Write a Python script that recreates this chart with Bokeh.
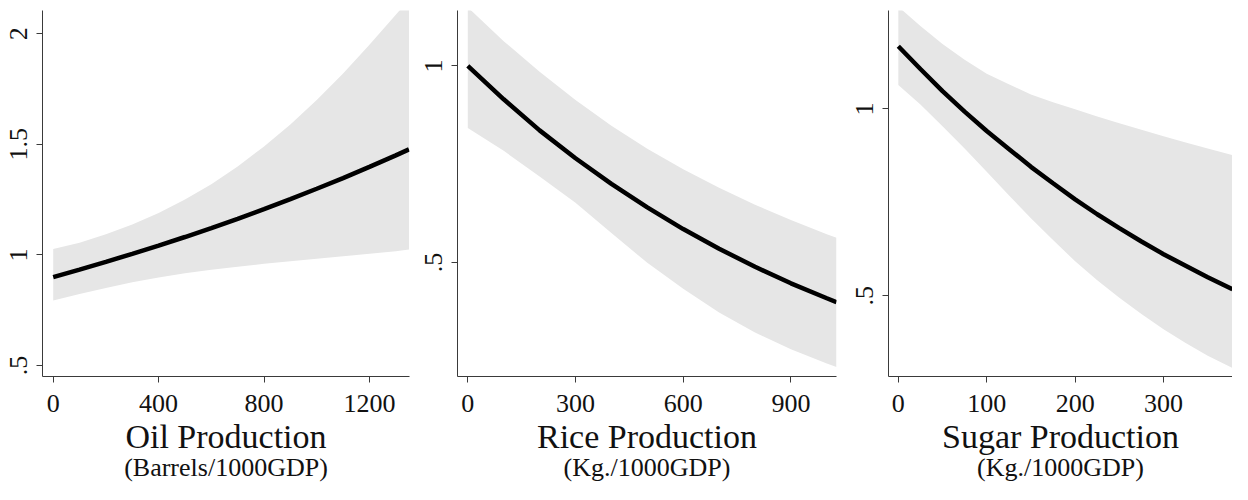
from bokeh.plotting import figure
from bokeh.layouts import row
from bokeh.models import FixedTicker, LinearAxis, Range1d
from bokeh.embed import file_html
from bokeh.resources import INLINE

# ---------------- data ----------------
oil_x = [0, 100, 200, 300, 400, 500, 600, 700, 800, 900, 1000, 1100, 1200, 1300, 1350]
oil_mid = [0.90, 0.934, 0.969, 1.005, 1.042, 1.081, 1.121, 1.163, 1.207, 1.252, 1.299, 1.347, 1.398, 1.45, 1.477]
oil_hi = [1.027, 1.055, 1.093, 1.138, 1.19, 1.25, 1.32, 1.40, 1.49, 1.59, 1.70, 1.82, 1.95, 2.085, 2.155]
oil_lo = [0.794, 0.824, 0.851, 0.876, 0.898, 0.917, 0.933, 0.947, 0.96, 0.972, 0.983, 0.994, 1.005, 1.017, 1.024]

rice_x = [0, 100, 200, 300, 400, 500, 600, 700, 800, 900, 1000, 1027]
rice_mid = [1.0, 0.915, 0.836, 0.765, 0.70, 0.64, 0.585, 0.535, 0.489, 0.447, 0.409, 0.399]
rice_hi = [1.149, 1.063, 0.985, 0.913, 0.848, 0.789, 0.737, 0.69, 0.647, 0.608, 0.572, 0.563]
rice_lo = [0.842, 0.784, 0.719, 0.652, 0.575, 0.499, 0.433, 0.373, 0.322, 0.279, 0.243, 0.234]

sugar_x = [0, 25, 50, 75, 100, 125, 150, 175, 200, 225, 250, 275, 300, 325, 350, 378]
sugar_mid = [1.168, 1.107, 1.048, 0.993, 0.941, 0.893, 0.845, 0.801, 0.758, 0.718, 0.681, 0.645, 0.611, 0.58, 0.549, 0.517]
sugar_hi = [1.274, 1.222, 1.174, 1.132, 1.094, 1.066, 1.039, 1.018, 0.999, 0.98, 0.962, 0.944, 0.927, 0.91, 0.894, 0.876]
sugar_lo = [1.064, 1.012, 0.954, 0.894, 0.832, 0.769, 0.707, 0.649, 0.592, 0.541, 0.494, 0.451, 0.41, 0.373, 0.339, 0.306]

oil_xticks = [0, 400, 800, 1200]
rice_xticks = [0, 300, 600, 900]
sugar_xticks = [0, 100, 200, 300]
oil_yticks = [0.5, 1, 1.5, 2]
oil_ylabels = [".5", "1", "1.5", "2"]
other_yticks = [0.5, 1]
other_ylabels = [".5", "1"]

titles = ["Oil Production", "Rice Production", "Sugar Production"]
subtitles = ["(Barrels/1000GDP)", "(Kg./1000GDP)", "(Kg./1000GDP)"]

FONT = "Liberation Serif"
AXIS_COLOR = "#3a3a3a"
TEXT_COLOR = "#111111"


def panel(x, mid, lo, hi, xr, yr, xticks, yticks, ylabels, title, subtitle,
          width, height, ml, mr, mt, mb):
    p = figure(width=width, height=height, x_range=Range1d(*xr), y_range=Range1d(*yr),
               output_backend="svg", toolbar_location=None,
               min_border_left=ml, min_border_right=mr, min_border_top=mt, min_border_bottom=mb)
    p.outline_line_color = None
    p.xgrid.visible = False
    p.ygrid.visible = False
    p.background_fill_color = "white"

    p.varea(x=x, y1=lo, y2=hi, fill_color="#e6e6e6", fill_alpha=1.0)
    p.line(x=x, y=mid, line_color="black", line_width=4.5)

    for ax in (p.xaxis[0], p.yaxis[0]):
        ax.axis_line_color = AXIS_COLOR
        ax.axis_line_width = 1
        ax.major_tick_line_color = AXIS_COLOR
        ax.major_tick_out = 6
        ax.major_tick_in = 0
        ax.minor_tick_line_color = None
        ax.major_label_text_font = FONT
        ax.major_label_text_font_size = "26px"
        ax.major_label_text_color = TEXT_COLOR

    p.xaxis.ticker = FixedTicker(ticks=xticks)
    p.xaxis.major_label_standoff = 12
    p.xaxis.axis_label = title
    p.xaxis.axis_label_text_font = FONT
    p.xaxis.axis_label_text_font_size = "34px"
    p.xaxis.axis_label_text_font_style = "normal"
    p.xaxis.axis_label_text_color = TEXT_COLOR
    p.xaxis.axis_label_standoff = 3

    p.yaxis.ticker = FixedTicker(ticks=yticks)
    p.yaxis.major_label_overrides = {float(t): l for t, l in zip(yticks, ylabels)}
    p.yaxis.major_label_orientation = "parallel"
    p.yaxis.major_label_standoff = 9

    sub = LinearAxis(ticker=FixedTicker(ticks=[]), axis_label=subtitle,
                     axis_line_color=None, major_tick_line_color=None,
                     minor_tick_line_color=None, major_tick_out=0, major_tick_in=0,
                     axis_label_standoff=-5,
                     axis_label_text_font=FONT, axis_label_text_font_size="26px",
                     axis_label_text_font_style="normal", axis_label_text_color=TEXT_COLOR)
    p.add_layout(sub, "below")
    return p


# all frames span y = 10 .. 378 (the row aligns them)
p1 = panel(oil_x, oil_mid, oil_lo, oil_hi, (-40.6, 1352), (0.4506, 2.1047),
           oil_xticks, oil_yticks, oil_ylabels, titles[0], subtitles[0],
           411, 484, 42, 2, 10, 106)
p2 = panel(rice_x, rice_mid, rice_lo, rice_hi, (-28.7, 1027), (0.2100, 1.1409),
           rice_xticks, other_yticks, other_ylabels, titles[1], subtitles[1],
           427, 484, 46, 2, 10, 106)
p3 = panel(sugar_x, sugar_mid, sugar_lo, sugar_hi, (-11.1, 378), (0.2834, 1.2637),
           sugar_xticks, other_yticks, other_ylabels, titles[2], subtitles[2],
           394, 484, 50, 0, 10, 106)

layout = row(p1, p2, p3, spacing=0)
open("out.html", "w").write(file_html(layout, INLINE))
